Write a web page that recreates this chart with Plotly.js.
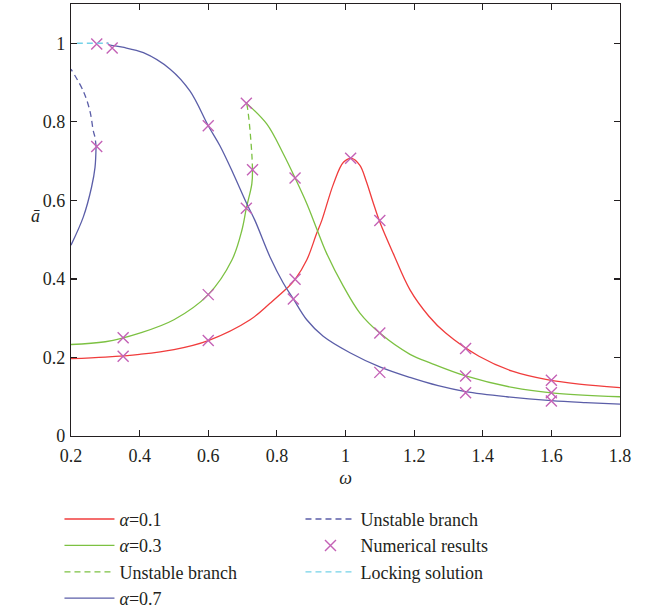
<!DOCTYPE html>
<html>
<head>
<meta charset="utf-8">
<script src="https://cdn.plot.ly/plotly-3.0.1.min.js"></script>
<style>html,body{margin:0;padding:0;background:#fff;}#chart{width:648px;height:614px;}</style>
</head>
<body>
<div id="chart"></div>
<script>
// α = 0.1 (stable)
const redW = [0.2,0.3,0.4,0.5,0.6,0.722,0.78,0.829,0.853,0.887,0.916,0.931,0.965,0.994,1.018,1.042,1.06,1.08,1.1,1.139,1.188,1.243,1.292,1.389,1.486,1.584,1.681,1.8];
const redA = [0.197,0.201,0.208,0.22,0.243,0.296,0.338,0.376,0.399,0.448,0.516,0.549,0.642,0.697,0.707,0.689,0.65,0.596,0.545,0.465,0.372,0.305,0.262,0.203,0.165,0.144,0.132,0.123];
// α = 0.3 lower stable branch
const grnLowW = [0.2,0.3,0.4,0.5,0.6,0.669,0.698,0.711,0.727,0.729];
const grnLowA = [0.233,0.24,0.262,0.296,0.36,0.448,0.524,0.58,0.642,0.678];
// α = 0.3 unstable branch
const grnUnsW = [0.729,0.727,0.72,0.715,0.712];
const grnUnsA = [0.678,0.718,0.794,0.832,0.847];
// α = 0.3 upper stable branch
const grnUpW = [0.712,0.771,0.819,0.853,0.887,0.916,0.945,0.994,1.042,1.1,1.188,1.25,1.35,1.49,1.6,1.8];
const grnUpA = [0.847,0.794,0.718,0.657,0.592,0.528,0.465,0.381,0.313,0.262,0.208,0.185,0.153,0.123,0.11,0.1];
// α = 0.7 main stable branch
const bluW = [0.31,0.35,0.411,0.489,0.547,0.6,0.634,0.673,0.712,0.736,0.78,0.819,0.848,0.887,0.935,1.013,1.1,1.188,1.27,1.35,1.47,1.6,1.7,1.8];
const bluA = [0.996,0.99,0.976,0.934,0.878,0.79,0.739,0.668,0.592,0.549,0.456,0.389,0.349,0.296,0.254,0.212,0.176,0.149,0.128,0.113,0.1,0.09,0.085,0.081];
// α = 0.7 lower-left stable branch
const bluLowW = [0.2,0.236,0.26,0.27,0.273];
const bluLowA = [0.486,0.558,0.634,0.684,0.737];
// α = 0.7 unstable branch
const bluUnsW = [0.273,0.27,0.265,0.255,0.236,0.2];
const bluUnsA = [0.737,0.76,0.777,0.828,0.878,0.934];
// Locking solution
const lockW = [0.217,0.31];
const lockA = [1.0,1.0];
// Numerical results
const numW = [0.275,0.32,0.275,0.6,0.711,0.729,0.711,0.853,0.6,0.352,0.352,0.6,0.853,0.848,1.015,1.1,1.1,1.1,1.35,1.35,1.35,1.6,1.6,1.6];
const numA = [0.998,0.988,0.737,0.79,0.847,0.678,0.58,0.657,0.36,0.25,0.203,0.243,0.399,0.349,0.707,0.549,0.262,0.162,0.223,0.153,0.11,0.142,0.11,0.089];

const RED = '#f03c3c', GRN = '#7cc142', BLU = '#5b5ea8', CYN = '#74d2e8', MAG = '#c462b6';
const LW = 1.3;
const FAM = "Liberation Serif";
const font = {family: FAM, size: 18, color: '#231f20'};

function line(x, y, color, name, dash, legend, show) {
  return {x: x, y: y, type: 'scatter', mode: 'lines', name: name,
    line: {color: color, width: LW, dash: dash || 'solid', shape: 'spline', smoothing: 1},
    legend: legend || 'legend', showlegend: show !== false};
}

const data = [
  line(redW, redA, RED, '<i>α</i>=0.1'),
  line(grnLowW, grnLowA, GRN, '<i>α</i>=0.3'),
  line(grnUpW, grnUpA, GRN, '<i>α</i>=0.3', null, 'legend', false),
  line(grnUnsW, grnUnsA, GRN, 'Unstable branch', '6px,4px'),
  line(bluW, bluA, BLU, '<i>α</i>=0.7'),
  line(bluLowW, bluLowA, BLU, '<i>α</i>=0.7', null, 'legend', false),
  line(bluUnsW, bluUnsA, BLU, 'Unstable branch', '6px,4px', 'legend2'),
  {x: numW, y: numA, type: 'scatter', mode: 'markers', name: 'Numerical results', legend: 'legend2',
    marker: {symbol: 'x-thin', size: 11, color: MAG, line: {color: MAG, width: 1.4}}},
  line(lockW, lockA, CYN, 'Locking solution', '6px,4px', 'legend2')
];

const axisCommon = {
  showgrid: false, zeroline: false, showline: true, mirror: 'ticks', automargin: false,
  linecolor: '#231f20', linewidth: 1.2, ticks: 'inside', ticklen: 6, tickwidth: 1.2, tickcolor: '#231f20',
  tickfont: font
};

const layout = {
  width: 648, height: 614,
  margin: {l: 71, r: 28, t: 4, b: 178, autoexpand: false},
  paper_bgcolor: '#fff', plot_bgcolor: '#fff',
  font: font,
  xaxis: Object.assign({}, axisCommon, {range: [0.2, 1.8], tick0: 0.2, dtick: 0.2, ticklabelstandoff: 3,
    title: {text: '<i>ω</i>', font: font, standoff: 6}}),
  yaxis: Object.assign({}, axisCommon, {range: [0, 1.1], tick0: 0, dtick: 0.2, ticklabelstandoff: 1}),
  legend: {x: -0.021, xanchor: 'left', y: -0.15, yanchor: 'top', bgcolor: 'rgba(0,0,0,0)',
    font: font, itemwidth: 50, tracegroupgap: 0},
  legend2: {x: 0.418, xanchor: 'left', y: -0.15, yanchor: 'top', bgcolor: 'rgba(0,0,0,0)',
    font: font, itemwidth: 50, tracegroupgap: 0},
  annotations: [{text: '<i>ā</i>', xref: 'paper', yref: 'paper', x: -0.065, y: 0.51,
    showarrow: false, font: font, xanchor: 'center', yanchor: 'middle'}]
};

Plotly.newPlot('chart', data, layout, {displayModeBar: false, staticPlot: true});
</script>
</body>
</html>
